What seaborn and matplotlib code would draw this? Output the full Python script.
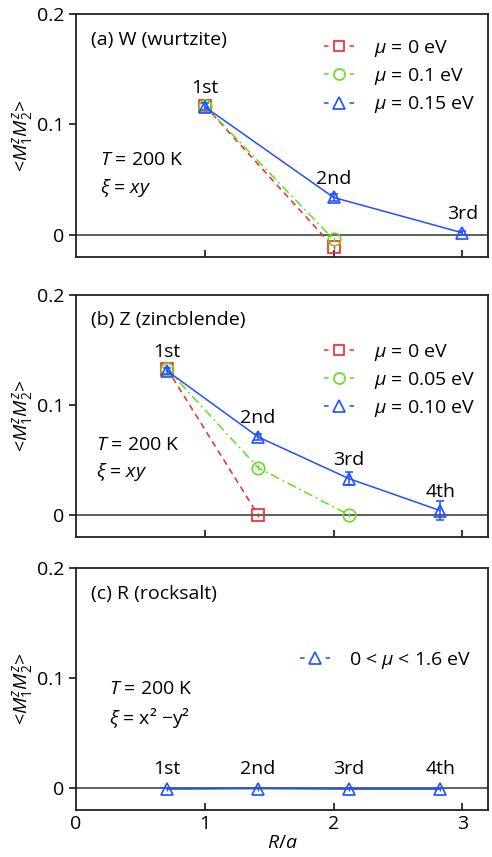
import matplotlib
matplotlib.use("Agg")
import matplotlib.pyplot as plt
from matplotlib.lines import Line2D
import seaborn as sns

sns.set_style("ticks")
plt.rcParams["font.family"] = ["Open Sans", "DejaVu Sans"]
plt.rcParams["mathtext.fontset"] = "custom"
plt.rcParams["mathtext.rm"] = "Open Sans"
plt.rcParams["mathtext.it"] = "Open Sans:italic"
plt.rcParams["mathtext.bf"] = "Open Sans:bold"
plt.rcParams["text.color"] = "black"
plt.rcParams["axes.labelcolor"] = "black"
plt.rcParams["xtick.color"] = "black"
plt.rcParams["ytick.color"] = "black"

RED = "#f02828"
GREEN = "#66dd1e"
BLUE = "#1f50ff"

# (a) wurtzite
w_x = [1.0, 2.0, 3.0]
w_mu0 = [0.117, -0.011]
w_mu01 = [0.117, -0.004]
w_mu015 = [0.116, 0.034, 0.002]
w_err015 = [0.003, 0.003, 0.002]
w_labels = ["1st", "2nd", "3rd"]

# (b) zincblende
z_x = [0.707, 1.414, 2.121, 2.828]
z_mu0 = [0.133, 0.0]
z_mu005 = [0.133, 0.043, 0.0]
z_mu010 = [0.131, 0.071, 0.033, 0.004]
z_err010 = [0.003, 0.003, 0.006, 0.009]
z_labels = ["1st", "2nd", "3rd", "4th"]

# (c) rocksalt
r_x = [0.707, 1.414, 2.121, 2.828]
r_mu = [-0.001, -0.0005, -0.001, -0.001]
r_err = [0.002, 0.002, 0.002, 0.002]
r_labels = ["1st", "2nd", "3rd", "4th"]

FS = 14

fig = plt.figure(figsize=(4.92, 8.57), dpi=100)
L, W = 0.1545, 0.8375
ax_a = fig.add_axes([L, 0.700, W, 0.2837])
ax_b = fig.add_axes([L, 0.3734, W, 0.2824])
ax_c = fig.add_axes([L, 0.0548, W, 0.2824])


def series(ax, x, y, color, ls, marker, ms, yerr=None):
    sns.lineplot(x=x, y=y, ax=ax, color=color, linestyle=ls, lw=1.1,
                 marker=marker, ms=ms, mfc="none", mec=color, mew=1.2,
                 sort=False, zorder=3)
    if yerr is not None:
        ax.errorbar(x, y, yerr=yerr, fmt="none", ecolor=color,
                    elinewidth=1.1, capsize=3, capthick=1.1, zorder=3)
    else:
        ax.errorbar(x, y, yerr=[0.002] * len(x), fmt="none", ecolor=color,
                    elinewidth=1.0, capsize=0, zorder=3)


def style(ax, bottom=False):
    ax.set_xlim(0, 3.2)
    ax.set_ylim(-0.02, 0.2)
    ax.set_yticks([0, 0.1, 0.2])
    ax.set_yticklabels(["0", "0.1", "0.2"], fontsize=FS)
    ax.set_xticks([1, 2, 3])
    ax.tick_params(axis="x", direction="in", length=5, width=1.1)
    ax.tick_params(axis="y", direction="out", length=5, width=1.1)
    if bottom:
        ax.set_xticks([0, 1, 2, 3])
        ax.set_xticklabels(["0", "1", "2", "3"], fontsize=FS)
        ax.xaxis.get_major_ticks()[0].tick1line.set_visible(False)
        ax.set_xlabel("$R/a$", fontsize=FS, labelpad=1)
    else:
        ax.set_xticklabels([])
    for s in ax.spines.values():
        s.set_linewidth(1.3)
        s.set_color("#222222")
    ax.axhline(0, color="#333333", lw=1.1, zorder=1)
    ax.set_ylabel("<$M^z_1M^z_2$>", fontsize=FS)
    ax.yaxis.set_label_coords(-0.10, 0.5)


def ordinals(ax, x, y, labels):
    for xi, yi, t in zip(x, y, labels):
        ax.annotate(t, (xi, yi), xytext=(0, 7), textcoords="offset points",
                    ha="center", va="bottom", fontsize=FS)


HL = 1.55  # legend handle length in font-size units


def handle(color, marker, ms):
    lw = 1.1
    total = HL * FS / lw
    d = 3.0
    return Line2D([0], [0], color=color, lw=lw, linestyle=(0, (d, total - 2 * d)),
                  marker=marker, ms=ms, mfc="none", mec=color, mew=1.2)


legend_kw = dict(loc="upper left", frameon=False, fontsize=FS, handlelength=HL,
                 handletextpad=1.0, labelspacing=0.38)

# panel (a)
series(ax_a, w_x[:2], w_mu0, RED, (0, (4, 3)), "s", 8)
series(ax_a, w_x[:2], w_mu01, GREEN, (0, (6, 2.5, 1.2, 2.5)), "o", 9)
series(ax_a, w_x, w_mu015, BLUE, "-", "^", 9, w_err015)
style(ax_a)
ordinals(ax_a, w_x, w_mu015, w_labels)
ax_a.text(0.12, 0.176, "(a) W (wurtzite)", fontsize=FS, va="center")
ax_a.text(0.19, 0.068, "$T$ = 200 K", fontsize=FS, va="center")
ax_a.text(0.19, 0.0425, r"$\xi$ = $xy$", fontsize=FS, va="center")
ax_a.legend([handle(RED, "s", 7), handle(GREEN, "o", 8), handle(BLUE, "^", 8)],
            [r"$\mu$ = 0 eV", r"$\mu$ = 0.1 eV", r"$\mu$ = 0.15 eV"],
            bbox_to_anchor=(0.56, 0.975), **legend_kw)

# panel (b)
series(ax_b, z_x[:2], z_mu0, RED, (0, (4, 3)), "s", 8)
series(ax_b, z_x[:3], z_mu005, GREEN, (0, (6, 2.5, 1.2, 2.5)), "o", 9)
series(ax_b, z_x, z_mu010, BLUE, "-", "^", 9, z_err010)
style(ax_b)
ordinals(ax_b, z_x, z_mu010, z_labels)
ax_b.text(0.12, 0.177, "(b) Z (zincblende)", fontsize=FS, va="center")
ax_b.text(0.155, 0.0636, "$T$ = 200 K", fontsize=FS, va="center")
ax_b.text(0.155, 0.039, r"$\xi$ = $xy$", fontsize=FS, va="center")
ax_b.legend([handle(RED, "s", 7), handle(GREEN, "o", 8), handle(BLUE, "^", 8)],
            [r"$\mu$ = 0 eV", r"$\mu$ = 0.05 eV", r"$\mu$ = 0.10 eV"],
            bbox_to_anchor=(0.56, 0.88), **legend_kw)

# panel (c)
series(ax_c, r_x, r_mu, BLUE, "-", "^", 9)
style(ax_c, bottom=True)
ordinals(ax_c, r_x, [0.0] * len(r_x), r_labels)
ax_c.text(0.12, 0.176, "(c) R (rocksalt)", fontsize=FS, va="center")
ax_c.text(0.26, 0.0896, "$T$ = 200 K", fontsize=FS, va="center")
ax_c.text(0.26, 0.064, r"$\xi$ = x² −y²", fontsize=FS, va="center")
ax_c.legend([handle(BLUE, "^", 8)], [r"0 < $\mu$ < 1.6 eV"],
            bbox_to_anchor=(0.5, 0.735), **legend_kw)

fig.savefig("out.png", dpi=100)
